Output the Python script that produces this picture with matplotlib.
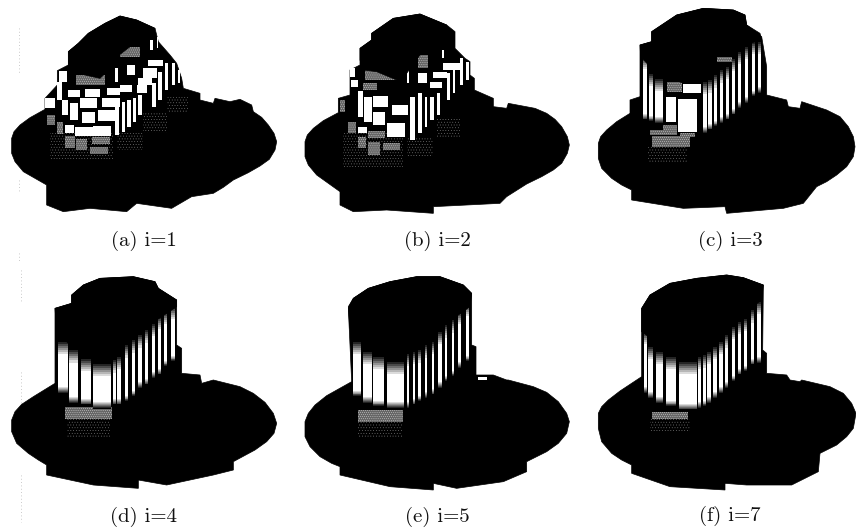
import matplotlib
matplotlib.use("Agg")
import matplotlib.pyplot as plt
from matplotlib.patches import Polygon, Rectangle

plt.rcParams["hatch.linewidth"] = 0.2

# All shapes, in 3x crop coordinates of each panel
captions = ["(a) i=1", "(b) i=2", "(c) i=3", "(d) i=4", "(e) i=5", "(f) i=7"]
caption_x = [144, 437, 730, 144, 437, 730]
caption_y = [241, 241, 241, 517, 517, 516]
offset_x = [0, 290, 570, 0, 290, 570]
offset_y = [0, 0, 0, 265, 265, 265]

sil_a = [(35,415),(42,395),(60,375),(90,353),(135,328),(135,295),(172,255),(172,212),(205,195),(205,155),(235,130),(265,100),(315,70),(360,48),(410,60),(465,85),(475,125),(510,165),(530,190),(545,235),(550,265),(600,280),(600,300),(640,310),(645,295),(690,305),(720,298),(755,315),(760,335),(785,352),(805,375),(822,400),(830,425),(825,450),(808,478),(780,498),(745,518),(700,540),(670,562),(640,580),(575,590),(515,625),(410,610),(380,635),(270,625),(190,635),(140,615),(140,555),(105,535),(70,515),(45,485),(35,460)]
cap_a = [(205,155),(235,130),(265,100),(315,70),(360,48),(410,60),(465,85),(440,120),(390,140),(345,175),(320,215),(300,235),(255,225),(205,205)]
white_a = [(195,375,222,400),(225,382,278,408),(280,378,332,408),(135,293,165,325),(172,245,185,300),(185,300,205,345),(210,310,235,360),(240,295,290,325),(245,335,285,370),(305,295,360,320),(295,330,345,362),(178,212,200,245),(205,270,240,292),(255,268,300,290),(345,322,358,405),(365,305,375,395),(380,300,392,380),(398,295,408,365),(415,285,425,345),(430,205,470,235),(445,180,490,198),(380,195,405,225),(415,235,455,255),(455,250,468,320),(475,215,485,300),(495,190,505,270),(515,190,525,255),(533,210,541,250),(345,205,355,245),(320,265,360,285),(450,120,458,150),(470,110,475,145),(360,255,395,275),(412,255,440,280)]
dense_a = [(170,365,190,402),(195,408,225,445),(228,418,262,450),(275,412,330,432),(270,440,325,462),(228,225,315,255),(360,140,420,170),(140,345,165,375)]
sparse_a = [(150,400,340,480),(350,400,430,450),(430,340,500,400),(500,290,565,340)]

sil_b = [(45,425),(52,405),(70,385),(100,362),(145,338),(145,295),(180,285),(180,210),(210,195),(210,145),(245,120),(245,100),(310,55),(390,42),(470,75),(495,95),(495,145),(525,175),(540,185),(540,225),(553,235),(553,270),(610,295),(610,320),(650,325),(655,310),(735,325),(770,340),(795,358),(815,380),(832,410),(838,435),(832,460),(815,490),(790,510),(755,530),(710,552),(650,590),(630,610),(430,620),(430,640),(290,630),(190,635),(150,615),(150,575),(115,550),(80,525),(55,495),(45,470)]
cap_b = [(210,145),(245,120),(245,100),(310,55),(390,42),(470,75),(465,100),(430,130),(390,165),(350,220),(320,240),(260,215),(220,210),(210,180)]
white_b = [(180,205,195,230),(182,240,205,260),(205,272,220,350),(222,290,245,365),(250,288,295,320),(250,335,285,375),(305,315,355,345),(290,370,345,410),(205,380,230,400),(360,290,375,420),(385,280,395,400),(405,290,412,380),(420,290,432,360),(440,280,450,345),(430,215,470,235),(460,190,510,210),(385,220,412,250),(470,220,480,300),(490,205,495,280),(510,175,520,255),(528,185,538,240),(420,245,455,265),(350,210,358,250),(455,150,462,175)]
dense_b = [(150,300,165,335),(220,250,262,270),(235,393,285,415),(175,365,198,400),(205,410,228,445),(235,425,270,465),(280,430,330,450),(225,205,320,240),(385,165,415,205),(360,150,385,165)]
sparse_b = [(160,400,340,500),(350,410,430,470),(440,350,510,410)]

sil_c = [(85,430),(92,410),(110,390),(140,365),(180,340),(180,300),(210,290),(210,135),(245,125),(245,95),(320,45),(400,25),(490,30),(525,45),(530,75),(575,110),(590,200),(590,285),(650,300),(655,320),(690,325),(695,305),(770,330),(810,350),(835,380),(850,410),(855,440),(850,470),(830,500),(800,525),(770,545),(740,560),(700,610),(640,625),(470,640),(465,620),(340,625),(185,600),(185,570),(155,555),(125,535),(95,505),(85,475)]
cap_c = [(210,135),(245,125),(245,95),(320,45),(400,25),(490,30),(525,45),(530,75),(570,100),(575,120),(520,135),(440,160),(400,225),(340,250),(290,230),(240,200),(212,170)]
bars_c = [(220,232,165,360),(238,250,215,365),(255,280,230,370),(400,410,240,400),(415,425,235,390),(432,440,220,380),(450,458,205,370),(468,476,195,360),(487,495,170,345),(505,513,150,325),(525,533,135,310),(545,555,120,290),(565,573,120,280)]
white_c = [(288,290,318,365),(325,298,380,395),(340,252,392,278)]
dense_c = [(290,245,335,275),(240,390,322,405),(245,408,360,440),(280,375,320,390),(330,398,375,412),(440,170,490,185)]
sparse_c = [(235,440,350,490)]

sil_d = [(35,465),(45,440),(65,418),(100,395),(165,355),(165,130),(215,115),(215,90),(250,60),(300,40),(400,35),(465,50),(475,70),(530,105),(530,240),(545,250),(545,325),(600,330),(605,355),(640,345),(720,365),(760,385),(795,412),(820,445),(830,475),(822,505),(800,530),(765,555),(700,590),(700,615),(640,630),(500,660),(415,645),(415,670),(280,660),(140,630),(140,600),(115,585),(85,565),(50,535),(35,500)]
cap_d = [(165,130),(215,115),(215,90),(250,60),(300,40),(400,35),(465,50),(475,70),(530,105),(530,125),(470,165),(400,210),(345,255),(270,265),(210,240),(170,200)]
bars_d = [(175,203,225,385),(208,235,250,415),(242,273,275,420),(280,332,290,430),(340,348,280,420),(352,362,270,420),(375,385,235,410),(397,405,220,395),(415,425,205,370),(435,445,190,360),(455,465,170,340),(475,483,150,330),(492,502,135,305),(512,525,120,290)]
white_d = []
dense_d = [(195,425,335,462)]
sparse_d = [(200,462,330,515)]

sil_e = [(45,470),(55,445),(75,420),(110,392),(185,350),(175,130),(190,100),(235,70),(300,50),(380,35),(450,35),(520,60),(545,85),(545,240),(558,245),(558,330),(610,330),(650,345),(655,345),(730,365),(770,382),(805,410),(830,445),(838,470),(830,505),(805,535),(770,560),(710,590),(710,620),(640,650),(500,670),(430,655),(430,675),(300,665),(150,630),(150,605),(125,595),(90,575),(60,545),(45,515)]
cap_e = [(175,125),(190,100),(235,70),(300,50),(380,35),(450,35),(520,60),(545,85),(540,125),(470,175),(400,225),(340,270),(290,275),(230,250),(180,190)]
bars_e = [(190,212,225,395),(220,245,255,415),(250,283,270,425),(290,342,285,430),(350,358,260,430),(368,375,255,420),(385,392,250,410),(405,412,235,400),(425,432,225,390),(445,455,195,370),(465,472,175,350),(485,492,160,335),(505,512,135,310),(527,537,110,290)]
white_e = [(565,335,590,345)]
dense_e = [(205,435,340,470)]
sparse_e = [(205,470,335,520)]

sil_f = [(85,445),(95,425),(115,405),(150,378),(215,335),(215,130),(240,90),(300,55),(380,40),(470,30),(520,38),(580,60),(578,255),(590,265),(590,325),(650,330),(660,345),(690,350),(695,345),(780,365),(820,385),(845,415),(858,445),(850,490),(830,515),(800,540),(750,565),(745,620),(665,660),(530,660),(465,655),(465,675),(300,665),(185,625),(185,600),(155,585),(125,565),(95,530),(85,490)]
cap_f = [(215,130),(240,90),(300,55),(380,40),(470,30),(520,38),(580,60),(575,105),(500,160),(440,215),(390,250),(340,280),(290,255),(215,200)]
bars_f = [(222,232,195,385),(235,250,240,400),(257,280,255,415),(288,318,270,425),(326,380,285,435),(385,392,270,430),(400,407,265,425),(412,422,255,415),(430,440,240,400),(447,458,225,385),(465,475,205,370),(487,495,180,350),(505,512,165,330),(522,530,155,320),(542,552,130,300),(562,572,105,295)]
white_f = []
dense_f = [(245,440,355,462)]
sparse_f = [(240,462,360,500)]

panels = [
    (sil_a, cap_a, [], white_a, dense_a, sparse_a),
    (sil_b, cap_b, [], white_b, dense_b, sparse_b),
    (sil_c, cap_c, bars_c, white_c, dense_c, sparse_c),
    (sil_d, cap_d, bars_d, white_d, dense_d, sparse_d),
    (sil_e, cap_e, bars_e, white_e, dense_e, sparse_e),
    (sil_f, cap_f, bars_f, white_f, dense_f, sparse_f),
]

# faint scan marks at the left margin
scan_x = [19, 19, 19, 21, 21, 21]
scan_top = [28, 180, 253, 270, 372, 475]
scan_bot = [73, 193, 263, 302, 418, 522]

fig = plt.figure(figsize=(8.56, 5.32), dpi=100)
ax = fig.add_axes([0, 0, 1, 1])
ax.set_xlim(0, 856)
ax.set_ylim(532, 0)
ax.axis("off")


def shaded_bar(ax, ox, oy, x0, x1, top, bot):
    """White stripe fading into black at its two ends."""
    x = ox + x0 / 3
    w = (x1 - x0) / 3
    t = oy + top / 3
    b = oy + bot / 3
    ax.add_patch(Rectangle((x, t), w, b - t, fc="white", ec="none", zorder=3))
    steps = 7
    fade_top = 14
    fade_bot = 6
    for k in range(steps):
        g = k / steps
        ax.add_patch(Rectangle((x, t + fade_top * k / steps), w, fade_top / steps + .3,
                               fc=str(g), ec="none", zorder=4))
        ax.add_patch(Rectangle((x, b - fade_bot * (k + 1) / steps), w, fade_bot / steps + .3,
                               fc=str(g), ec="none", zorder=4))


def box(ax, ox, oy, rect, **kw):
    x0, y0, x1, y1 = rect
    ax.add_patch(Rectangle((ox + x0 / 3, oy + y0 / 3), (x1 - x0) / 3, (y1 - y0) / 3, lw=0, **kw))


for (sil, cap, bars, whites, dense, sparse), ox, oy in zip(panels, offset_x, offset_y):
    ax.add_patch(Polygon([(ox + px / 3, oy + py / 3) for px, py in sil],
                         fc="black", ec="black", lw=0.5, zorder=2))
    for r in sparse:
        box(ax, ox, oy, r, fc="black", ec="0.55", hatch="......", zorder=3)
    for r in dense:
        box(ax, ox, oy, r, fc="0.4", ec="0.95", hatch="........", zorder=3)
    for r in whites:
        box(ax, ox, oy, r, fc="white", ec="none", zorder=4)
    for x0, x1, top, bot in bars:
        shaded_bar(ax, ox, oy, x0, x1, top, bot)
    ax.add_patch(Polygon([(ox + px / 3, oy + py / 3) for px, py in cap],
                         fc="black", ec="black", lw=0.5, zorder=5))

for x, t, b in zip(scan_x, scan_top, scan_bot):
    ax.plot([x, x], [t, b], color="0.72", lw=0.6, ls=(0, (1, 3)), zorder=1)

for s, x, y in zip(captions, caption_x, caption_y):
    ax.text(x, y, s, family="cmr10", fontsize=15, ha="center", va="center", color="#111111")

fig.savefig("out.png", dpi=100)
